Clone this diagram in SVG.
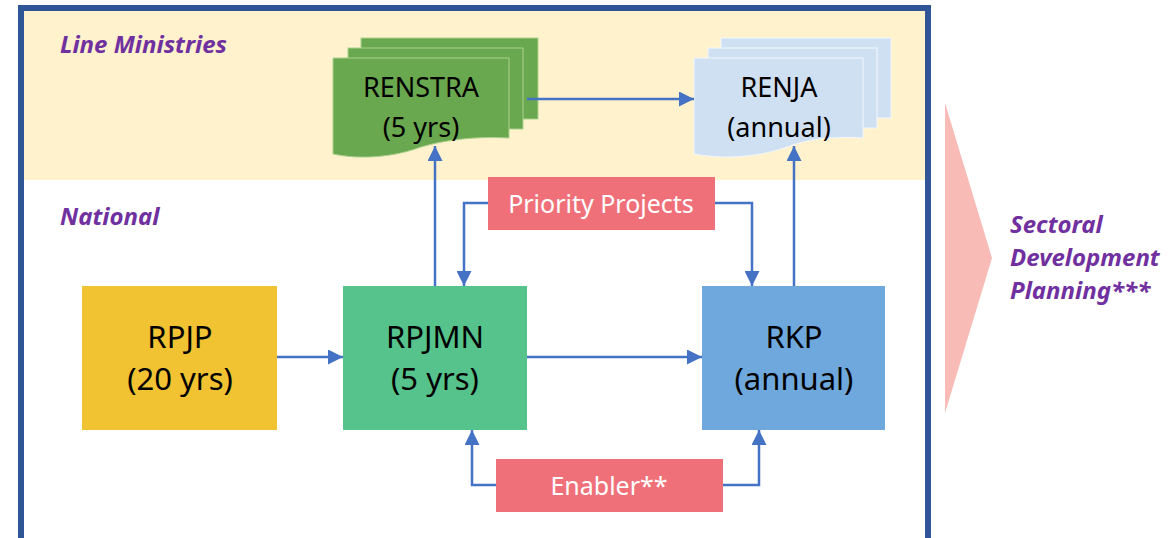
<svg xmlns="http://www.w3.org/2000/svg" width="1175" height="538" viewBox="0 0 1175 538">
<defs>
<style>
.lbl{font-family:"Noto Sans","Open Sans",sans-serif;font-weight:bold;font-style:italic;fill:#7030A0;font-size:24px}
.box{font-family:"Noto Sans","Open Sans",sans-serif;fill:#000;text-anchor:middle}
.pill{font-family:"Noto Sans","Open Sans",sans-serif;fill:#fff;text-anchor:middle;font-size:25px}
.con{fill:none;stroke:#4472C4;stroke-width:2.5}
</style>
<marker id="ah" viewBox="0 0 10 10" refX="10" refY="5" markerWidth="6" markerHeight="6" markerUnits="strokeWidth" orient="auto">
<path d="M0,0 L10,5 L0,10 Z" fill="#4472C4"/>
</marker>
</defs>
<rect x="0" y="0" width="1175" height="538" fill="#fff"/>
<g id="frame">
<rect x="21" y="8" width="907" height="172" fill="#FFF2CC"/>
<path d="M21,545 V8 H928 V545" fill="none" stroke="#2F5597" stroke-width="6"/>
</g>
<g id="labels">
<text class="lbl" x="60" y="53">Line Ministries</text>
<text class="lbl" x="60" y="225">National</text>
</g>
<g id="chevron">
<polygon points="945,103 992,258 945,413" fill="#F8BBB6"/>
<text class="lbl" x="1010" y="233">Sectoral</text>
<text class="lbl" x="1010" y="266">Development</text>
<text class="lbl" x="1010" y="299">Planning***</text>
</g>
<g id="renstra">
<rect x="361" y="38" width="177" height="81" fill="#6AA84F" stroke="#A9D18E" stroke-width="1"/>
<rect x="348" y="48" width="175" height="81" fill="#6AA84F" stroke="#A9D18E" stroke-width="1"/>
<path d="M333,58 H509 V138 C475,136 445,140 421,147 C395,157 360,160 333,154 Z" fill="#6AA84F" stroke="#A9D18E" stroke-width="1"/>
<text class="box" x="421" y="97" font-size="27">RENSTRA</text>
<text class="box" x="421" y="137" font-size="27">(5 yrs)</text>
</g>
<g id="renja">
<rect x="721" y="38" width="170" height="80" fill="#D0E0F3" stroke="#F2F7FC" stroke-width="1"/>
<rect x="708" y="48" width="169" height="80" fill="#D0E0F3" stroke="#F2F7FC" stroke-width="1"/>
<path d="M694,58 H863 V138 C830,136 805,140 790,146 C760,157 725,160 694,154 Z" fill="#D0E0F3" stroke="#F2F7FC" stroke-width="1"/>
<text class="box" x="779" y="97" font-size="27">RENJA</text>
<text class="box" x="779" y="137" font-size="27">(annual)</text>
</g>
<g id="rpjp">
<rect x="82" y="286" width="195" height="144" fill="#F1C232"/>
<text class="box" x="180" y="348" font-size="31">RPJP</text>
<text class="box" x="180" y="390" font-size="31">(20 yrs)</text>
</g>
<g id="rpjmn">
<rect x="343" y="286" width="184" height="144" fill="#55C38B"/>
<text class="box" x="435" y="348" font-size="31">RPJMN</text>
<text class="box" x="435" y="390" font-size="31">(5 yrs)</text>
</g>
<g id="rkp">
<rect x="702" y="286" width="183" height="144" fill="#6FA8DC"/>
<text class="box" x="794" y="348" font-size="31">RKP</text>
<text class="box" x="794" y="390" font-size="31">(annual)</text>
</g>
<g id="connectors">
<path class="con" d="M527,99 H694" marker-end="url(#ah)"/>
<path class="con" d="M277,357 H343" marker-end="url(#ah)"/>
<path class="con" d="M527,357 H702" marker-end="url(#ah)"/>
<path class="con" d="M435,286 V146" marker-end="url(#ah)"/>
<path class="con" d="M794,286 V146" marker-end="url(#ah)"/>
<path class="con" d="M488,203 H464 V286" marker-end="url(#ah)"/>
<path class="con" d="M715,203 H752 V286" marker-end="url(#ah)"/>
<path class="con" d="M496,485 H472 V430" marker-end="url(#ah)"/>
<path class="con" d="M723,485 H759 V430" marker-end="url(#ah)"/>
</g>
<g id="priority">
<rect x="488" y="177" width="227" height="53" fill="#F07079"/>
<text class="pill" x="601" y="213">Priority Projects</text>
</g>
<g id="enabler">
<rect x="496" y="459" width="227" height="53" fill="#F07079"/>
<text class="pill" x="609" y="495">Enabler**</text>
</g>
</svg>
